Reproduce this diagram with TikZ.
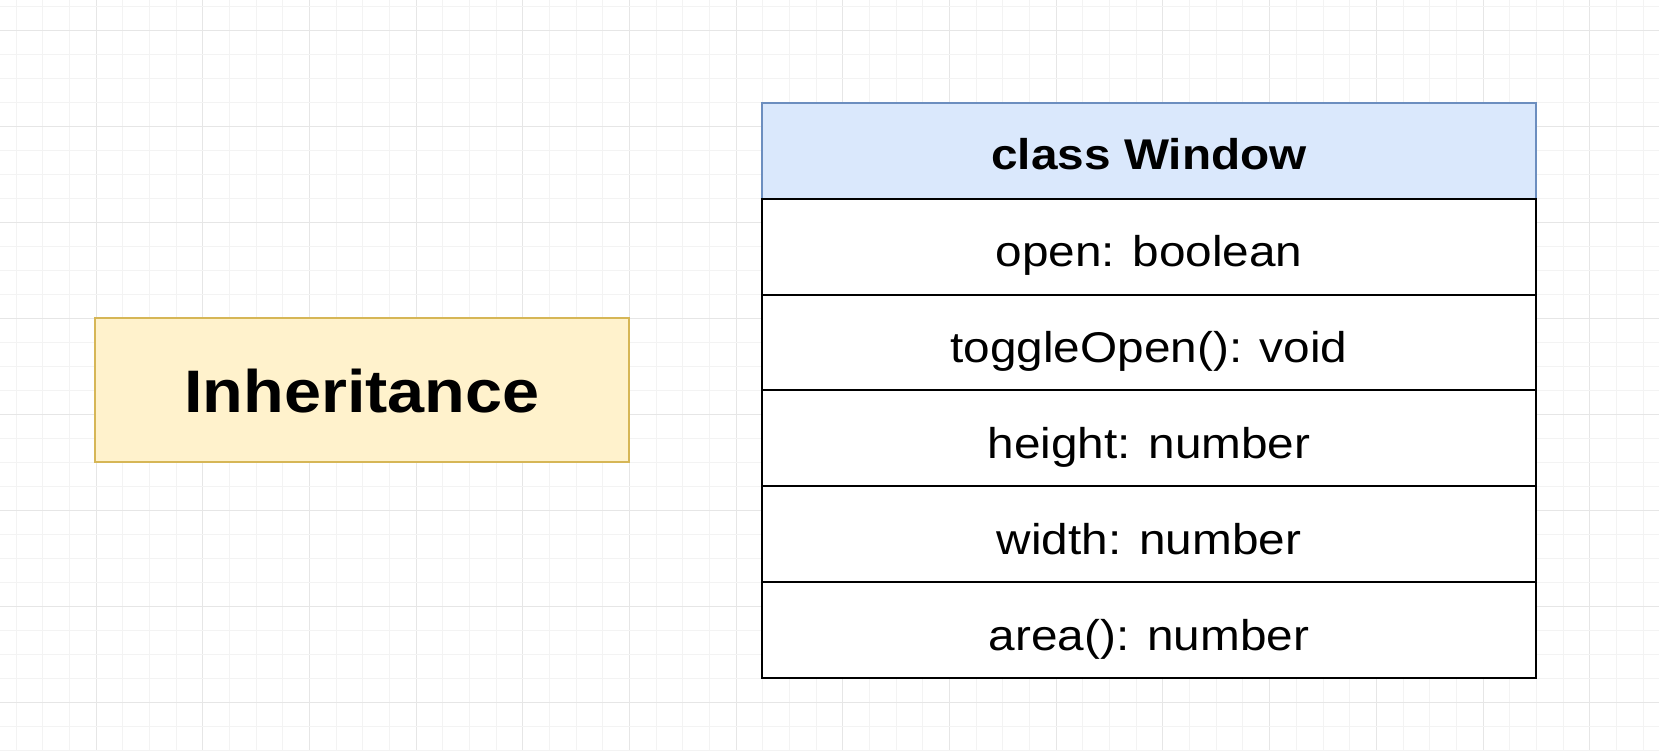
\documentclass[tikz,border=0pt]{standalone}
\usepackage{fontspec}
\setmainfont{Liberation Sans}[FakeStretch=1.11]
\definecolor{gridminor}{HTML}{F3F3F3}
\definecolor{gridmajor}{HTML}{E6E6E6}
\definecolor{notefill}{HTML}{FFF2CC}
\definecolor{notedraw}{HTML}{D6B656}
\definecolor{headfill}{HTML}{DAE8FC}
\definecolor{headdraw}{HTML}{6C8EBF}
\tikzset{
  titlebox/.style={rectangle, draw=notedraw, fill=notefill, line width=2pt,
    minimum width=534, minimum height=144, inner sep=0pt,
    font=\fontsize{60}{72}\selectfont\bfseries, text height=44pt, text depth=0pt},
  classhead/.style={rectangle, draw=headdraw, fill=headfill, line width=2pt,
    minimum width=774, minimum height=95.9, inner sep=0pt,
    font=\fontsize{43}{52}\selectfont\bfseries, text height=38pt, text depth=0pt},
  member/.style={rectangle, draw=black, fill=white, line width=2pt,
    minimum width=774, minimum height=95.9, inner sep=0pt,
    font=\fontsize{43}{52}\selectfont, text height=40pt, text depth=0pt},
}
\begin{document}
\begin{tikzpicture}[x=1pt, y=-1pt]
\useasboundingbox (0,0) rectangle (1659,751);
\fill[white] (0,0) rectangle (1659,751);
% background grid
\foreach \i in {0,...,61}{
  \pgfmathtruncatemacro{\m}{mod(\i,4)}
  \ifnum\m=3
    \draw[gridmajor, line width=1pt] ({16.3+\i*26.667},0) -- ++(0,751);
  \else
    \draw[gridminor, line width=1pt] ({16.3+\i*26.667},0) -- ++(0,751);
  \fi
}
\foreach \j in {0,...,31}{
  \pgfmathtruncatemacro{\m}{mod(\j,4)}
  \ifnum\m=1
    \draw[gridmajor, line width=1pt] (0,{6.7+\j*23.986}) -- ++(1659,0);
  \else
    \draw[gridminor, line width=1pt] (0,{6.7+\j*23.986}) -- ++(1659,0);
  \fi
}
% title
\node[titlebox] (title) at (362,390.3) {Inheritance};
% class box
\node[classhead] (head) at (1149,150.65) {class Window};
\node[member] (m1) at (1149,246.55) {open: boolean};
\node[member] (m2) at (1149,342.45) {toggleOpen(): void};
\node[member] (m3) at (1149,438.35) {height: number};
\node[member] (m4) at (1149,534.25) {width: number};
\node[member] (m5) at (1149,630.15) {area(): number};
\end{tikzpicture}
\end{document}
